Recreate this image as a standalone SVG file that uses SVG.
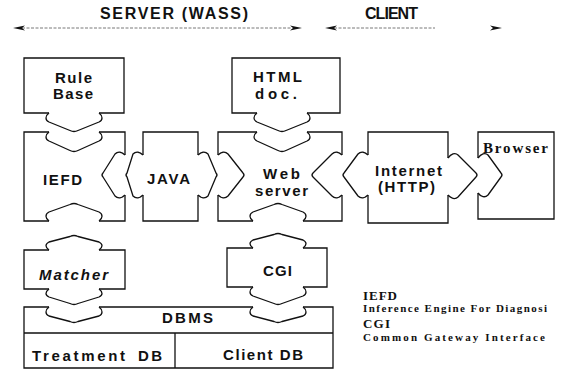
<svg xmlns="http://www.w3.org/2000/svg" width="573" height="373" viewBox="0 0 573 373">
<style>
.box{fill:none;stroke:#111;stroke-width:1.3;stroke-linejoin:miter}
.chev{fill:none;stroke:#111;stroke-width:1.3;stroke-linejoin:round}
.lbl{font-family:"Liberation Sans",Arial,sans-serif;font-weight:bold;font-size:15px;fill:#111}
.hdr{font-family:"Liberation Sans",Arial,sans-serif;font-weight:bold;font-size:16px;fill:#111}
.ser{font-family:"Liberation Serif","Times New Roman",serif;font-weight:bold;fill:#111}
.dot{stroke:#555;stroke-width:0.8;stroke-dasharray:3 1.5;fill:none}
.ah{fill:#111}
</style>
<rect width="573" height="373" fill="#fff"/>
<g id="header">
<text class="hdr" x="100" y="19" textLength="148" lengthAdjust="spacing">SERVER (WASS)</text>
<text class="hdr" x="365" y="19" textLength="53" lengthAdjust="spacing">CLIENT</text>
<line class="dot" x1="22" y1="28" x2="292" y2="28"/>
<polygon class="ah" points="13,28 25,25.5 22,28 25,30.5"/>
<polygon class="ah" points="302,28 290,25.5 293,28 290,30.5"/>
<line class="dot" x1="334" y1="28" x2="435" y2="28"/>
<polygon class="ah" points="325,28 337,25.5 334,28 337,30.5"/>
<polygon class="ah" points="502,28 490,25.5 493,28 490,30.5"/>
</g>
<g id="rulebase">
<path class="box" d="M49,113 H24 V58 H124 V113 H99"/>
<text class="lbl" x="55" y="83" textLength="37" lengthAdjust="spacing">Rule</text>
<text class="lbl" x="53" y="99" textLength="40" lengthAdjust="spacing">Base</text>
</g>
<g id="iefd">
<path class="box" d="M49,132 H24 V221 H49 M99,221 H125 V195 M125,155 V132 H99"/>
<text class="lbl" x="43" y="185" textLength="39" lengthAdjust="spacing">IEFD</text>
</g>
<g id="java">
<path class="box" d="M143,155 V132 H198 V155 M198,195 V221 H143 V195"/>
<text class="lbl" x="147" y="184" textLength="43" lengthAdjust="spacing">JAVA</text>
</g>
<g id="htmldoc">
<path class="box" d="M257,113 H232 V58 H340 V113 H307"/>
<text class="lbl" x="253" y="82" textLength="49" lengthAdjust="spacing">HTML</text>
<text class="lbl" x="255" y="99" textLength="42" lengthAdjust="spacing">doc.</text>
</g>
<g id="webserver">
<path class="box" d="M257,132 H218 V155 M218,195 V221 H253 M303,221 H342 V195 M342,155 V132 H307"/>
<text class="lbl" x="263" y="179" textLength="37" lengthAdjust="spacing">Web</text>
<text class="lbl" x="255" y="195.5" textLength="53" lengthAdjust="spacing">server</text>
</g>
<g id="internet">
<path class="box" d="M368,155 V132 H448 V158 M448,195 V223 H368 V195"/>
<text class="lbl" x="375" y="175.5" textLength="67" lengthAdjust="spacing">Internet</text>
<text class="lbl" x="378" y="192" textLength="57" lengthAdjust="spacing">(HTTP)</text>
</g>
<g id="browser">
<path class="box" d="M478,158 V132 H554 V219 H478 V193"/>
<text class="ser" x="483" y="153" font-size="15" textLength="65" lengthAdjust="spacing">Browser</text>
</g>
<g id="matcher">
<path class="box" d="M49,250 H24 V289 H49 M99,289 H125 V250 H99"/>
<text class="lbl" x="39" y="280" font-style="italic" textLength="69" lengthAdjust="spacing">Matcher</text>
</g>
<g id="cgi">
<path class="box" d="M253,248 H227 V287 H253 M303,287 H327 V248 H303"/>
<text class="lbl" x="263" y="276" textLength="29" lengthAdjust="spacing">CGI</text>
</g>
<g id="dbms">
<path class="box" d="M49,307 H24 V368 H333 V307 H303 M253,307 H99 M24,333 H333 M175,333 V368"/>
<text class="lbl" x="162" y="323" textLength="51" lengthAdjust="spacing">DBMS</text>
<text class="lbl" x="32" y="361" textLength="93" lengthAdjust="spacing">Treatment</text>
<text class="lbl" x="138" y="361" textLength="24" lengthAdjust="spacing">DB</text>
<text class="lbl" x="223" y="360" textLength="80" lengthAdjust="spacing">Client DB</text>
</g>
<g id="legend">
<text class="ser" x="363" y="300" font-size="13" textLength="34" lengthAdjust="spacing">IEFD</text>
<text class="ser" x="363" y="312" font-size="11" textLength="184" lengthAdjust="spacing">Inference Engine For Diagnosi</text>
<text class="ser" x="363" y="328" font-size="13" textLength="27" lengthAdjust="spacing">CGI</text>
<text class="ser" x="363" y="341" font-size="11" textLength="182" lengthAdjust="spacing">Common Gateway Interface</text>
</g>
<g id="connectors">
<path class="chev" d="M49,113 C45,116 45,120 49,122 L70,130.5 Q74,132.5 78,130.5 L99,122 C103,120 103,116 99,113"/>
<path class="chev" d="M49,132 C45,135 45,139 49,141 L70,150.5 Q74,152.5 78,150.5 L99,141 C103,139 103,135 99,132"/>
<path class="chev" d="M257,113 C253,116 253,120 257,122 L278,130.5 Q282,132.5 286,130.5 L307,122 C311,120 311,116 307,113"/>
<path class="chev" d="M257,132 C253,135 253,139 257,141 L278,150.5 Q282,152.5 286,150.5 L307,141 C311,139 311,135 307,132"/>
<path class="chev" d="M49,221 C45,218 45,214 49,212 L70,204.5 Q74,202.5 78,204.5 L99,212 C103,214 103,218 99,221"/>
<path class="chev" d="M49,250 C45,247 45,244 49,242 L70,236.5 Q74,234.5 78,236.5 L99,242 C103,244 103,247 99,250"/>
<path class="chev" d="M253,221 C249,218 249,214 253,212 L274,204.5 Q278,202.5 282,204.5 L303,212 C307,214 307,218 303,221"/>
<path class="chev" d="M253,248 C249,245 249,242 253,240 L274,234.5 Q278,232.5 282,234.5 L303,240 C307,242 307,245 303,248"/>
<path class="chev" d="M49,289 C45,292 45,295 49,297 L70,303.5 Q74,305.5 78,303.5 L99,297 C103,295 103,292 99,289"/>
<path class="chev" d="M49,307 C45,310 45,314 49,316 L70,321.5 Q74,323.5 78,321.5 L99,316 C103,314 103,310 99,307"/>
<path class="chev" d="M253,287 C249,290 249,294 253,296 L274,303.5 Q278,305.5 282,303.5 L303,296 C307,294 307,290 303,287"/>
<path class="chev" d="M253,307 C249,310 249,314 253,316 L274,321.5 Q278,323.5 282,321.5 L303,316 C307,314 307,310 303,307"/>
<path class="chev" d="M143,155 C140,152 136,151 133,154 L127,173 Q125,175 127,177 L133,196 C136,199 140,198 143,195"/>
<path class="chev" d="M125,155 C122,152 118,151 115,154 L103,173 Q101,175 103,177 L115,196 C118,199 122,198 125,195"/>
<path class="chev" d="M198,155 C201,152 205,151 208,154 L216,173 Q218,175 216,177 L208,196 C205,199 201,198 198,195"/>
<path class="chev" d="M218,155 C221,152 225,151 228,154 L243,173 Q245,175 243,177 L228,196 C225,199 221,198 218,195"/>
<path class="chev" d="M368,155 C365,152 361,151 358,154 L344,173 Q342,175 344,177 L358,196 C361,199 365,198 368,195"/>
<path class="chev" d="M342,155 C339,152 335,151 332,154 L313,173 Q311,175 313,177 L332,196 C335,199 339,198 342,195"/>
<path class="chev" d="M448,158 C451,154 455,152 458,155 L476,173 Q478,175 476,177 L458,197 C455,200 451,198 448,195"/>
<path class="chev" d="M478,158 C481,154 485,152 488,155 L501,173 Q503,175 501,177 L488,195 C485,198 481,197 478,193"/>
</g>
</svg>
